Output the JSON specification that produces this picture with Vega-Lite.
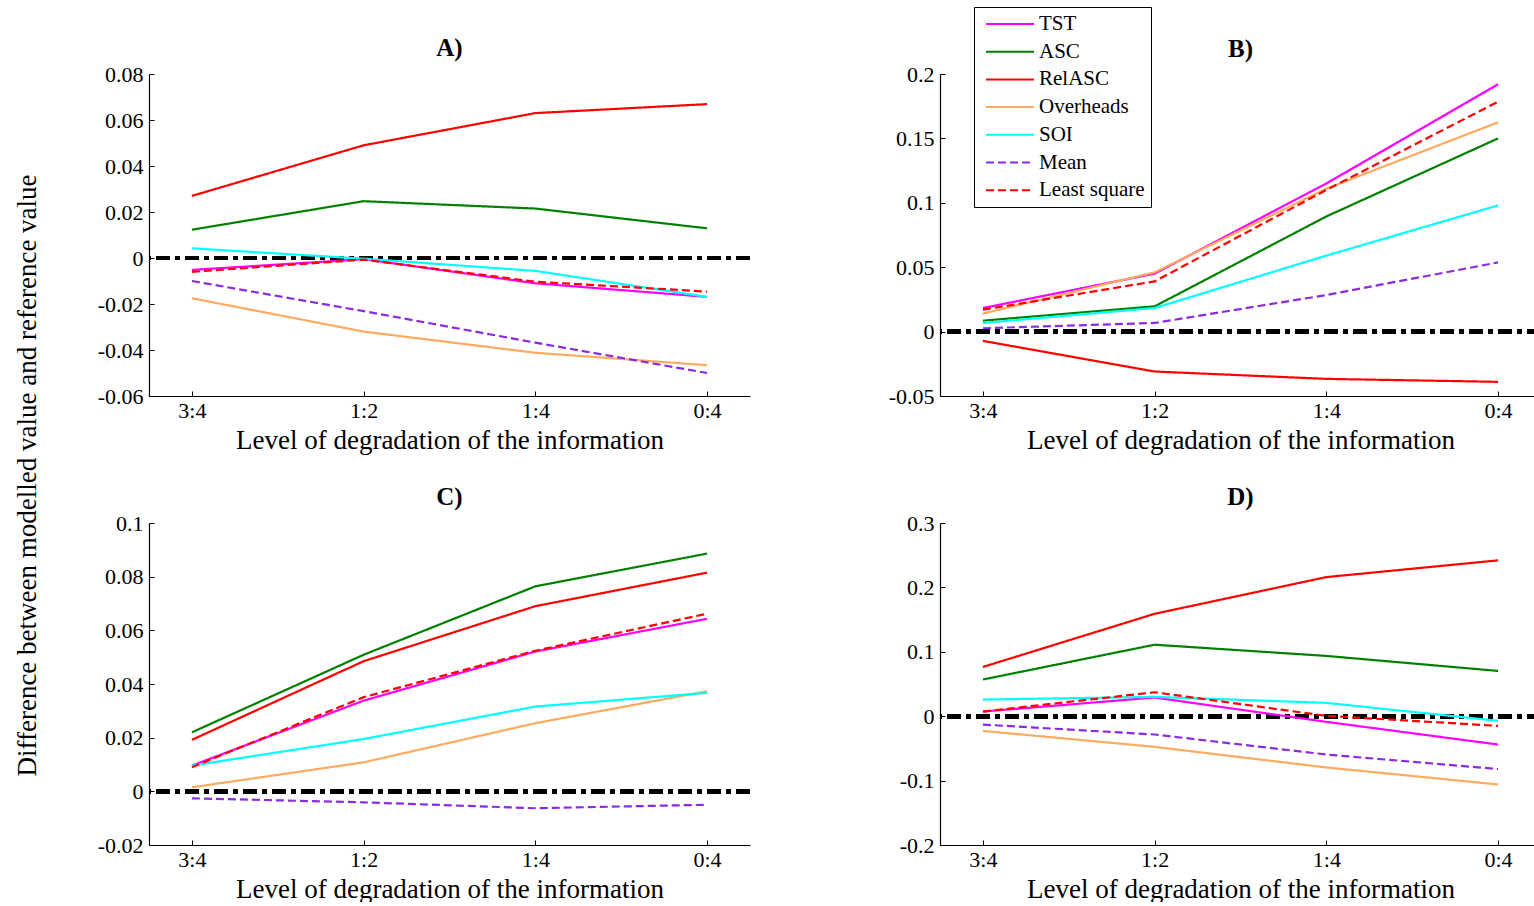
{
  "$schema": "https://vega.github.io/schema/vega-lite/v6.json",
  "background": "white",
  "padding": {"left": 13, "top": 6, "right": 0, "bottom": 0},
  "bounds": "flush",
  "spacing": {"row": 127, "column": 190},
  "columns": 2,
  "config": {
    "font": "Liberation Serif",
    "view": {"stroke": null},
    "axis": {
      "domainColor": "black", "tickColor": "black", "labelColor": "black", "titleColor": "black",
      "labelFont": "Liberation Serif", "titleFont": "Liberation Serif",
      "labelFontSize": 22, "titleFontSize": 27, "titleFontWeight": "normal",
      "grid": false, "domainWidth": 1.2, "tickWidth": 1
    },
    "title": {"font": "Liberation Serif", "fontSize": 25, "fontWeight": "bold", "color": "black", "offset": 2},
    "legend": {"labelFont": "Liberation Serif", "labelFontSize": 21, "labelColor": "black"}
  },
  "datasets": {
    "A": [
      {"panel": "A", "series": "TST", "level": "3:4", "value": -0.0052},
      {"panel": "A", "series": "TST", "level": "1:2", "value": -0.0005},
      {"panel": "A", "series": "TST", "level": "1:4", "value": -0.011},
      {"panel": "A", "series": "TST", "level": "0:4", "value": -0.0169},
      {"panel": "A", "series": "ASC", "level": "3:4", "value": 0.0123},
      {"panel": "A", "series": "ASC", "level": "1:2", "value": 0.0247},
      {"panel": "A", "series": "ASC", "level": "1:4", "value": 0.0215},
      {"panel": "A", "series": "ASC", "level": "0:4", "value": 0.0129},
      {"panel": "A", "series": "RelASC", "level": "3:4", "value": 0.027},
      {"panel": "A", "series": "RelASC", "level": "1:2", "value": 0.049},
      {"panel": "A", "series": "RelASC", "level": "1:4", "value": 0.063},
      {"panel": "A", "series": "RelASC", "level": "0:4", "value": 0.0669},
      {"panel": "A", "series": "Overheads", "level": "3:4", "value": -0.0175},
      {"panel": "A", "series": "Overheads", "level": "1:2", "value": -0.032},
      {"panel": "A", "series": "Overheads", "level": "1:4", "value": -0.0412},
      {"panel": "A", "series": "Overheads", "level": "0:4", "value": -0.0466},
      {"panel": "A", "series": "SOI", "level": "3:4", "value": 0.0042},
      {"panel": "A", "series": "SOI", "level": "1:2", "value": -0.0003},
      {"panel": "A", "series": "SOI", "level": "1:4", "value": -0.0056},
      {"panel": "A", "series": "SOI", "level": "0:4", "value": -0.0169},
      {"panel": "A", "series": "Mean", "level": "3:4", "value": -0.01},
      {"panel": "A", "series": "Mean", "level": "1:2", "value": -0.0231},
      {"panel": "A", "series": "Mean", "level": "1:4", "value": -0.0368},
      {"panel": "A", "series": "Mean", "level": "0:4", "value": -0.05},
      {"panel": "A", "series": "Least square", "level": "3:4", "value": -0.006},
      {"panel": "A", "series": "Least square", "level": "1:2", "value": -0.0007},
      {"panel": "A", "series": "Least square", "level": "1:4", "value": -0.0103},
      {"panel": "A", "series": "Least square", "level": "0:4", "value": -0.0146}
    ],
    "B": [
      {"panel": "B", "series": "TST", "level": "3:4", "value": 0.0183},
      {"panel": "B", "series": "TST", "level": "1:2", "value": 0.045},
      {"panel": "B", "series": "TST", "level": "1:4", "value": 0.115},
      {"panel": "B", "series": "TST", "level": "0:4", "value": 0.192},
      {"panel": "B", "series": "ASC", "level": "3:4", "value": 0.0085},
      {"panel": "B", "series": "ASC", "level": "1:2", "value": 0.0196},
      {"panel": "B", "series": "ASC", "level": "1:4", "value": 0.0894},
      {"panel": "B", "series": "ASC", "level": "0:4", "value": 0.15},
      {"panel": "B", "series": "RelASC", "level": "3:4", "value": -0.0072},
      {"panel": "B", "series": "RelASC", "level": "1:2", "value": -0.031},
      {"panel": "B", "series": "RelASC", "level": "1:4", "value": -0.0367},
      {"panel": "B", "series": "RelASC", "level": "0:4", "value": -0.039},
      {"panel": "B", "series": "Overheads", "level": "3:4", "value": 0.014},
      {"panel": "B", "series": "Overheads", "level": "1:2", "value": 0.046},
      {"panel": "B", "series": "Overheads", "level": "1:4", "value": 0.111},
      {"panel": "B", "series": "Overheads", "level": "0:4", "value": 0.1625},
      {"panel": "B", "series": "SOI", "level": "3:4", "value": 0.0067},
      {"panel": "B", "series": "SOI", "level": "1:2", "value": 0.0183},
      {"panel": "B", "series": "SOI", "level": "1:4", "value": 0.059},
      {"panel": "B", "series": "SOI", "level": "0:4", "value": 0.098},
      {"panel": "B", "series": "Mean", "level": "3:4", "value": 0.0026},
      {"panel": "B", "series": "Mean", "level": "1:2", "value": 0.0067},
      {"panel": "B", "series": "Mean", "level": "1:4", "value": 0.0284},
      {"panel": "B", "series": "Mean", "level": "0:4", "value": 0.0537},
      {"panel": "B", "series": "Least square", "level": "3:4", "value": 0.017},
      {"panel": "B", "series": "Least square", "level": "1:2", "value": 0.039},
      {"panel": "B", "series": "Least square", "level": "1:4", "value": 0.11},
      {"panel": "B", "series": "Least square", "level": "0:4", "value": 0.1785}
    ],
    "C": [
      {"panel": "C", "series": "TST", "level": "3:4", "value": 0.0096},
      {"panel": "C", "series": "TST", "level": "1:2", "value": 0.0338},
      {"panel": "C", "series": "TST", "level": "1:4", "value": 0.0521},
      {"panel": "C", "series": "TST", "level": "0:4", "value": 0.0643},
      {"panel": "C", "series": "ASC", "level": "3:4", "value": 0.022},
      {"panel": "C", "series": "ASC", "level": "1:2", "value": 0.0509},
      {"panel": "C", "series": "ASC", "level": "1:4", "value": 0.0764},
      {"panel": "C", "series": "ASC", "level": "0:4", "value": 0.0886},
      {"panel": "C", "series": "RelASC", "level": "3:4", "value": 0.0192},
      {"panel": "C", "series": "RelASC", "level": "1:2", "value": 0.0485},
      {"panel": "C", "series": "RelASC", "level": "1:4", "value": 0.069},
      {"panel": "C", "series": "RelASC", "level": "0:4", "value": 0.0815},
      {"panel": "C", "series": "Overheads", "level": "3:4", "value": 0.0015},
      {"panel": "C", "series": "Overheads", "level": "1:2", "value": 0.0108},
      {"panel": "C", "series": "Overheads", "level": "1:4", "value": 0.0254},
      {"panel": "C", "series": "Overheads", "level": "0:4", "value": 0.0373},
      {"panel": "C", "series": "SOI", "level": "3:4", "value": 0.0096},
      {"panel": "C", "series": "SOI", "level": "1:2", "value": 0.0195},
      {"panel": "C", "series": "SOI", "level": "1:4", "value": 0.0316},
      {"panel": "C", "series": "SOI", "level": "0:4", "value": 0.0367},
      {"panel": "C", "series": "Mean", "level": "3:4", "value": -0.0026},
      {"panel": "C", "series": "Mean", "level": "1:2", "value": -0.0041},
      {"panel": "C", "series": "Mean", "level": "1:4", "value": -0.0063},
      {"panel": "C", "series": "Mean", "level": "0:4", "value": -0.005},
      {"panel": "C", "series": "Least square", "level": "3:4", "value": 0.009},
      {"panel": "C", "series": "Least square", "level": "1:2", "value": 0.0351},
      {"panel": "C", "series": "Least square", "level": "1:4", "value": 0.0524},
      {"panel": "C", "series": "Least square", "level": "0:4", "value": 0.0662}
    ],
    "D": [
      {"panel": "D", "series": "TST", "level": "3:4", "value": 0.0072},
      {"panel": "D", "series": "TST", "level": "1:2", "value": 0.029},
      {"panel": "D", "series": "TST", "level": "1:4", "value": -0.0088},
      {"panel": "D", "series": "TST", "level": "0:4", "value": -0.044},
      {"panel": "D", "series": "ASC", "level": "3:4", "value": 0.057},
      {"panel": "D", "series": "ASC", "level": "1:2", "value": 0.111},
      {"panel": "D", "series": "ASC", "level": "1:4", "value": 0.0936},
      {"panel": "D", "series": "ASC", "level": "0:4", "value": 0.0703},
      {"panel": "D", "series": "RelASC", "level": "3:4", "value": 0.0765},
      {"panel": "D", "series": "RelASC", "level": "1:2", "value": 0.159},
      {"panel": "D", "series": "RelASC", "level": "1:4", "value": 0.216},
      {"panel": "D", "series": "RelASC", "level": "0:4", "value": 0.242},
      {"panel": "D", "series": "Overheads", "level": "3:4", "value": -0.0228},
      {"panel": "D", "series": "Overheads", "level": "1:2", "value": -0.0476},
      {"panel": "D", "series": "Overheads", "level": "1:4", "value": -0.0796},
      {"panel": "D", "series": "Overheads", "level": "0:4", "value": -0.106},
      {"panel": "D", "series": "SOI", "level": "3:4", "value": 0.0258},
      {"panel": "D", "series": "SOI", "level": "1:2", "value": 0.03},
      {"panel": "D", "series": "SOI", "level": "1:4", "value": 0.0207},
      {"panel": "D", "series": "SOI", "level": "0:4", "value": -0.0072},
      {"panel": "D", "series": "Mean", "level": "3:4", "value": -0.013},
      {"panel": "D", "series": "Mean", "level": "1:2", "value": -0.0284},
      {"panel": "D", "series": "Mean", "level": "1:4", "value": -0.0595},
      {"panel": "D", "series": "Mean", "level": "0:4", "value": -0.082},
      {"panel": "D", "series": "Least square", "level": "3:4", "value": 0.0072},
      {"panel": "D", "series": "Least square", "level": "1:2", "value": 0.0372},
      {"panel": "D", "series": "Least square", "level": "1:4", "value": 0.0005},
      {"panel": "D", "series": "Least square", "level": "0:4", "value": -0.015}
    ]
  },
  "resolve": {"scale": {"y": "independent", "color": "independent", "strokeDash": "independent"}, "legend": {"color": "independent", "strokeDash": "independent"}},
  "concat": [
    {
      "width": 601, "height": 322,
      "title": {"text": "A)"},
      "data": {"name": "A"},
      "layer": [
        {
          "mark": {"type": "rule", "color": "black", "strokeWidth": 4, "strokeDash": [14, 5, 5, 5]},
          "encoding": {"y": {"datum": 0, "type": "quantitative", "scale": {"domain": [-0.06, 0.08], "nice": false, "zero": false}}}
        },
        {
          "mark": {"type": "line", "strokeWidth": 2.2},
          "encoding": {
            "x": {"field": "level", "type": "ordinal", "sort": ["3:4", "1:2", "1:4", "0:4"], "scale": {"type": "point", "padding": 0.25},
                  "axis": {"title": "Level of degradation of the information", "labelAngle": 0, "tickSize": -5, "labelPadding": 9, "titlePadding": 6}},
            "y": {"field": "value", "type": "quantitative", "scale": {"domain": [-0.06, 0.08], "nice": false, "zero": false},
                  "axis": {"values": [-0.06, -0.04, -0.02, 0, 0.02, 0.04, 0.06, 0.08], "labelExpr": "replace(format(datum.value, '~g'), '\u2212', '-')", "tickSize": -5, "labelPadding": 11,
                           "title": "Difference between modelled value and reference value", "titleX": -122, "titleY": 401, "titleAngle": -90, "titleBaseline": "middle", "titleAnchor": "middle", "titleAlign": "center"}},
            "color": {"field": "series", "type": "nominal", "legend": null,
                      "scale": {"domain": ["TST", "ASC", "RelASC", "Overheads", "SOI", "Mean", "Least square"], "range": ["#ff00ff", "#008000", "#ff0000", "#ffaa60", "#00ffff", "#8a2be2", "#ff0000"]}},
            "strokeDash": {"field": "series", "type": "nominal", "legend": null,
                      "scale": {"domain": ["TST", "ASC", "RelASC", "Overheads", "SOI", "Mean", "Least square"], "range": [[1, 0], [1, 0], [1, 0], [1, 0], [1, 0], [8, 4], [8, 4]]}}
          }
        }
      ]
    },
    {
      "width": 601, "height": 322,
      "title": {"text": "B)", "offset": -55},
      "data": {"name": "B"},
      "layer": [
        {
          "mark": {"type": "rule", "color": "black", "strokeWidth": 4, "strokeDash": [14, 5, 5, 5]},
          "encoding": {"y": {"datum": 0, "type": "quantitative", "scale": {"domain": [-0.05, 0.2], "nice": false, "zero": false}}}
        },
        {
          "mark": {"type": "line", "strokeWidth": 2.2},
          "encoding": {
            "x": {"field": "level", "type": "ordinal", "sort": ["3:4", "1:2", "1:4", "0:4"], "scale": {"type": "point", "padding": 0.25},
                  "axis": {"title": "Level of degradation of the information", "labelAngle": 0, "tickSize": -5, "labelPadding": 9, "titlePadding": 6}},
            "y": {"field": "value", "type": "quantitative", "scale": {"domain": [-0.05, 0.2], "nice": false, "zero": false},
                  "axis": {"values": [-0.05, 0, 0.05, 0.1, 0.15, 0.2], "labelExpr": "replace(format(datum.value, '~g'), '\u2212', '-')", "tickSize": -5, "labelPadding": 11, "title": null}},
            "color": {"field": "series", "type": "nominal",
                      "scale": {"domain": ["TST", "ASC", "RelASC", "Overheads", "SOI", "Mean", "Least square"], "range": ["#ff00ff", "#008000", "#ff0000", "#ffaa60", "#00ffff", "#8a2be2", "#ff0000"]},
                      "legend": {"title": null, "orient": "none", "legendX": 34, "legendY": -67, "strokeColor": "black", "fillColor": "white", "padding": 6,
                                 "symbolType": "M-2.4,0H2.4", "symbolSize": 400, "symbolStrokeWidth": 2, "symbolOffset": 19, "labelOffset": 18, "rowPadding": 6.7, "labelFontSize": 21, "labelFont": "Liberation Serif"}},
            "strokeDash": {"field": "series", "type": "nominal",
                      "scale": {"domain": ["TST", "ASC", "RelASC", "Overheads", "SOI", "Mean", "Least square"], "range": [[1, 0], [1, 0], [1, 0], [1, 0], [1, 0], [8, 4], [8, 4]]},
                      "legend": {"title": null, "orient": "none", "legendX": 34, "legendY": -67, "strokeColor": "black", "fillColor": "white", "padding": 6,
                                 "symbolType": "M-2.4,0H2.4", "symbolSize": 400, "symbolStrokeWidth": 2, "symbolOffset": 19, "labelOffset": 18, "rowPadding": 6.7, "labelFontSize": 21, "labelFont": "Liberation Serif"}}
          }
        }
      ]
    },
    {
      "width": 601, "height": 322,
      "title": {"text": "C)"},
      "data": {"name": "C"},
      "layer": [
        {
          "mark": {"type": "rule", "color": "black", "strokeWidth": 4, "strokeDash": [14, 5, 5, 5]},
          "encoding": {"y": {"datum": 0, "type": "quantitative", "scale": {"domain": [-0.02, 0.1], "nice": false, "zero": false}}}
        },
        {
          "mark": {"type": "line", "strokeWidth": 2.2},
          "encoding": {
            "x": {"field": "level", "type": "ordinal", "sort": ["3:4", "1:2", "1:4", "0:4"], "scale": {"type": "point", "padding": 0.25},
                  "axis": {"title": "Level of degradation of the information", "labelAngle": 0, "tickSize": -5, "labelPadding": 9, "titlePadding": 6}},
            "y": {"field": "value", "type": "quantitative", "scale": {"domain": [-0.02, 0.1], "nice": false, "zero": false},
                  "axis": {"values": [-0.02, 0, 0.02, 0.04, 0.06, 0.08, 0.1], "labelExpr": "replace(format(datum.value, '~g'), '\u2212', '-')", "tickSize": -5, "labelPadding": 11, "title": null}},
            "color": {"field": "series", "type": "nominal", "legend": null,
                      "scale": {"domain": ["TST", "ASC", "RelASC", "Overheads", "SOI", "Mean", "Least square"], "range": ["#ff00ff", "#008000", "#ff0000", "#ffaa60", "#00ffff", "#8a2be2", "#ff0000"]}},
            "strokeDash": {"field": "series", "type": "nominal", "legend": null,
                      "scale": {"domain": ["TST", "ASC", "RelASC", "Overheads", "SOI", "Mean", "Least square"], "range": [[1, 0], [1, 0], [1, 0], [1, 0], [1, 0], [8, 4], [8, 4]]}}
          }
        }
      ]
    },
    {
      "width": 601, "height": 322,
      "title": {"text": "D)"},
      "data": {"name": "D"},
      "layer": [
        {
          "mark": {"type": "rule", "color": "black", "strokeWidth": 4, "strokeDash": [14, 5, 5, 5]},
          "encoding": {"y": {"datum": 0, "type": "quantitative", "scale": {"domain": [-0.2, 0.3], "nice": false, "zero": false}}}
        },
        {
          "mark": {"type": "line", "strokeWidth": 2.2},
          "encoding": {
            "x": {"field": "level", "type": "ordinal", "sort": ["3:4", "1:2", "1:4", "0:4"], "scale": {"type": "point", "padding": 0.25},
                  "axis": {"title": "Level of degradation of the information", "labelAngle": 0, "tickSize": -5, "labelPadding": 9, "titlePadding": 6}},
            "y": {"field": "value", "type": "quantitative", "scale": {"domain": [-0.2, 0.3], "nice": false, "zero": false},
                  "axis": {"values": [-0.2, -0.1, 0, 0.1, 0.2, 0.3], "labelExpr": "replace(format(datum.value, '~g'), '\u2212', '-')", "tickSize": -5, "labelPadding": 11, "title": null}},
            "color": {"field": "series", "type": "nominal", "legend": null,
                      "scale": {"domain": ["TST", "ASC", "RelASC", "Overheads", "SOI", "Mean", "Least square"], "range": ["#ff00ff", "#008000", "#ff0000", "#ffaa60", "#00ffff", "#8a2be2", "#ff0000"]}},
            "strokeDash": {"field": "series", "type": "nominal", "legend": null,
                      "scale": {"domain": ["TST", "ASC", "RelASC", "Overheads", "SOI", "Mean", "Least square"], "range": [[1, 0], [1, 0], [1, 0], [1, 0], [1, 0], [8, 4], [8, 4]]}}
          }
        }
      ]
    }
  ]
}
